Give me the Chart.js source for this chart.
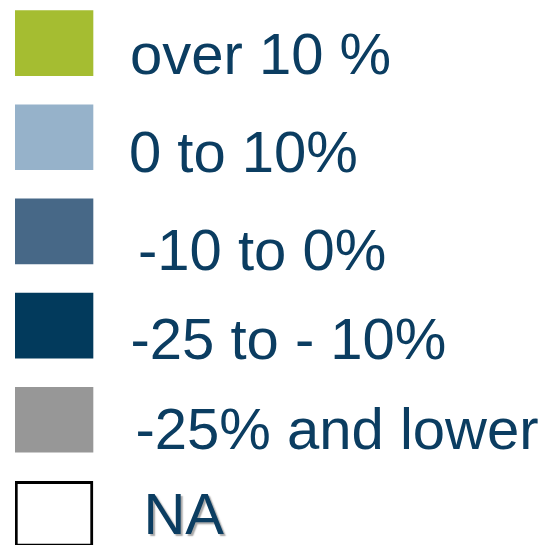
<!DOCTYPE html>
<html>
<head>
<meta charset="utf-8">
<script src="https://cdn.jsdelivr.net/npm/chart.js@4/dist/chart.umd.min.js"></script>
<style>
  html, body { margin: 0; padding: 0; background: #ffffff; overflow: hidden; }
  #wrap { position: absolute; left: 0; top: -4px; width: 550px; height: 565px; }
</style>
</head>
<body>
<div id="wrap"><canvas id="c"></canvas></div>
<script>
// Legend categories (one swatch each)
const categories = ['over 10 %', '0 to 10%', '-10 to 0%', '-25 to - 10%', '-25% and lower', 'NA'];
// Each swatch is a unit-length bar
const swatchValues = [1, 1, 1, 1, 1, 1];
// Swatch styles
const fillColors = ['#a5bd31', '#96b2ca', '#476887', '#023a5c', '#979797', '#ffffff'];
const edgeColors = ['#a5bd31', '#96b2ca', '#476887', '#023a5c', '#979797', '#000000'];
const edgeWidths = [0, 0, 0, 0, 0, 3];
// Label placement tweaks (px from swatch end / swatch centre)
const labelGap = [37, 36, 45, 37.5, 42.5, 50.5];
const labelBaseline = [31, 35, 38.5, 33.5, 29.5, 20.5];
const labelShadow = [false, false, false, false, false, true];
const textColor = '#0b3d61';

const labelPlugin = {
  id: 'swatchLabels',
  afterDatasetsDraw(chart) {
    const ctx = chart.ctx;
    const meta = chart.getDatasetMeta(0);
    ctx.save();
    ctx.font = '58px "Liberation Sans", Arial, sans-serif';
    ctx.textAlign = 'left';
    ctx.textBaseline = 'alphabetic';
    meta.data.forEach((el, i) => {
      ctx.save();
      if (labelShadow[i]) {
        ctx.shadowColor = 'rgba(0,0,0,0.35)';
        ctx.shadowOffsetX = 2;
        ctx.shadowOffsetY = 2;
        ctx.shadowBlur = 1.5;
      }
      ctx.fillStyle = textColor;
      ctx.fillText(categories[i], el.x + labelGap[i], el.y + labelBaseline[i]);
      ctx.restore();
    });
    ctx.restore();
  }
};

new Chart(document.getElementById('c'), {
  type: 'bar',
  data: {
    labels: categories,
    datasets: [{
      data: swatchValues,
      backgroundColor: fillColors,
      borderColor: edgeColors,
      borderWidth: edgeWidths,
      borderSkipped: false,
      barThickness: 65
    }]
  },
  options: {
    indexAxis: 'y',
    responsive: true,
    maintainAspectRatio: false,
    animation: false,
    layout: { padding: { left: 15, right: 0, top: 0, bottom: 0 } },
    scales: {
      x: { display: false, min: 0, max: 6.86 },
      y: { display: false, offset: true }
    },
    plugins: {
      legend: { display: false },
      tooltip: { enabled: false }
    }
  },
  plugins: [labelPlugin]
});
</script>
</body>
</html>
